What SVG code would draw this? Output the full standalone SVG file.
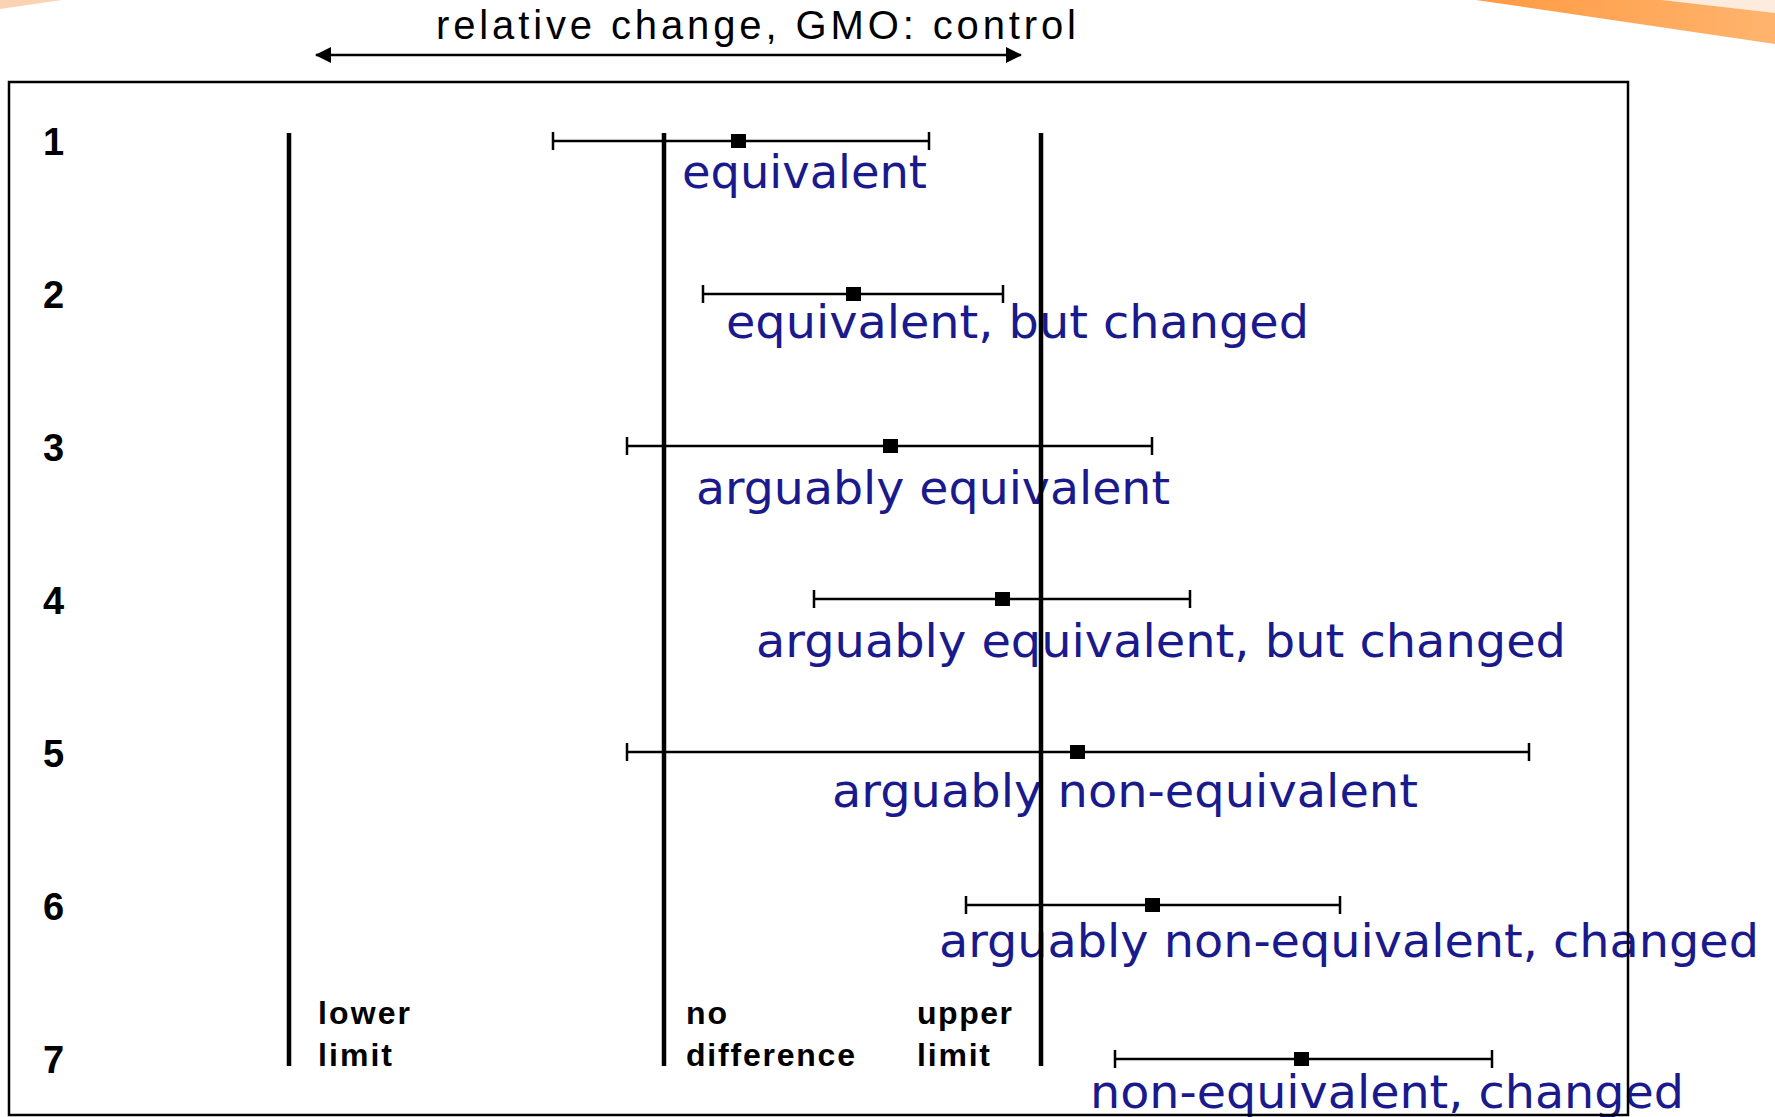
<svg xmlns="http://www.w3.org/2000/svg" width="1775" height="1117" viewBox="0 0 1775 1117">
  <defs>
    <linearGradient id="og" x1="0" y1="0" x2="1" y2="0">
      <stop offset="0" stop-color="#FF9A42"/>
      <stop offset="1" stop-color="#FFB46E"/>
    </linearGradient>
    <marker id="ah" viewBox="0 0 16 16" refX="15" refY="8" markerWidth="16" markerHeight="16" markerUnits="userSpaceOnUse" orient="auto-start-reverse">
      <path d="M0,0 L16,8 L0,16 Z" fill="#000"/>
    </marker>
    <style>
      .num { font-family: "Liberation Sans", Arial, sans-serif; font-weight: bold; font-size: 38px; fill: #000; }
      .lab { font-family: "DejaVu Sans", Verdana, sans-serif; font-size: 47px; fill: #1a1a8c; }
      .axl { font-family: "Liberation Sans", Arial, sans-serif; font-weight: bold; font-size: 32px; fill: #000; }
      .title { font-family: "Liberation Sans", Arial, sans-serif; font-size: 40px; fill: #000; }
      .bar { stroke: #000; stroke-width: 2.5; fill: none; }
      .ref { stroke: #000; stroke-width: 4.5; fill: none; }
      .mk { fill: #000; }
    </style>
  </defs>
  <rect x="0" y="0" width="1775" height="1117" fill="#fff"/>
  <!-- decorative corner swooshes -->
  <polygon points="1662,0 1775,0 1775,13" fill="#FDEBDD"/>
  <polygon points="1476,0 1662,0 1775,13 1775,44" fill="url(#og)"/>
  <polygon points="0,0 62,0 0,9" fill="#FBD3B4"/>

  <g id="title">
    <text class="title" x="436" y="39" textLength="640" lengthAdjust="spacing">relative change, GMO: control</text>
  </g>

  <g id="labels-text">
    <g id="row1-label"><text class="lab" x="682" y="188" textLength="245" lengthAdjust="spacingAndGlyphs">equivalent</text></g>
    <g id="row2-label"><text class="lab" x="726" y="338" textLength="583" lengthAdjust="spacingAndGlyphs">equivalent, but changed</text></g>
    <g id="row3-label"><text class="lab" x="696" y="504" textLength="474" lengthAdjust="spacingAndGlyphs">arguably equivalent</text></g>
    <g id="row4-label"><text class="lab" x="756" y="657" textLength="810" lengthAdjust="spacingAndGlyphs">arguably equivalent, but changed</text></g>
    <g id="row5-label"><text class="lab" x="832" y="807" textLength="586" lengthAdjust="spacingAndGlyphs">arguably non-equivalent</text></g>
    <g id="row6-label"><text class="lab" x="939" y="957" textLength="820" lengthAdjust="spacingAndGlyphs">arguably non-equivalent, changed</text></g>
    <g id="row7-label"><text class="lab" x="1090" y="1108" textLength="594" lengthAdjust="spacingAndGlyphs">non-equivalent, changed</text></g>
  </g>

  <g id="frame">
    <rect x="9" y="82" width="1619" height="1033" fill="none" stroke="#000" stroke-width="2.5"/>
  </g>

  <g id="row-numbers">
    <text class="num" x="43" y="155">1</text>
    <text class="num" x="43" y="308">2</text>
    <text class="num" x="43" y="461">3</text>
    <text class="num" x="43" y="614">4</text>
    <text class="num" x="43" y="767">5</text>
    <text class="num" x="43" y="920">6</text>
    <text class="num" x="43" y="1073">7</text>
  </g>

  <g id="reference-lines">
    <g id="lower-limit">
      <line class="ref" x1="289" y1="133" x2="289" y2="1066"/>
      <text class="axl" x="318" y="1024" textLength="92" lengthAdjust="spacing">lower</text>
      <text class="axl" x="318" y="1066" textLength="74" lengthAdjust="spacing">limit</text>
    </g>
    <g id="no-difference">
      <line class="ref" x1="664" y1="133" x2="664" y2="1066"/>
      <text class="axl" x="686" y="1024" textLength="41" lengthAdjust="spacing">no</text>
      <text class="axl" x="686" y="1066" textLength="169" lengthAdjust="spacing">difference</text>
    </g>
    <g id="upper-limit">
      <line class="ref" x1="1041" y1="133" x2="1041" y2="1066"/>
      <text class="axl" x="917" y="1024" textLength="95" lengthAdjust="spacing">upper</text>
      <text class="axl" x="917" y="1066" textLength="73" lengthAdjust="spacing">limit</text>
    </g>
  </g>

  <g id="error-bars">
    <g id="row1"><path class="bar" d="M553,141H929M553,132V150M929,132V150"/><rect class="mk" x="731" y="134" width="15" height="14"/></g>
    <g id="row2"><path class="bar" d="M703,294H1003M703,285V303M1003,285V303"/><rect class="mk" x="846" y="287" width="15" height="14"/></g>
    <g id="row3"><path class="bar" d="M627,446H1152M627,437V455M1152,437V455"/><rect class="mk" x="883" y="439" width="15" height="14"/></g>
    <g id="row4"><path class="bar" d="M814,599H1190M814,590V608M1190,590V608"/><rect class="mk" x="995" y="592" width="15" height="14"/></g>
    <g id="row5"><path class="bar" d="M627,752H1529M627,743V761M1529,743V761"/><rect class="mk" x="1070" y="745" width="15" height="14"/></g>
    <g id="row6"><path class="bar" d="M966,905H1340M966,896V914M1340,896V914"/><rect class="mk" x="1145" y="898" width="15" height="14"/></g>
    <g id="row7"><path class="bar" d="M1115,1059H1492M1115,1050V1068M1492,1050V1068"/><rect class="mk" x="1294" y="1052" width="15" height="14"/></g>
  </g>

  <g id="connectors">
    <line x1="316" y1="55" x2="1021" y2="55" stroke="#000" stroke-width="2.5" marker-start="url(#ah)" marker-end="url(#ah)"/>
  </g>
</svg>
